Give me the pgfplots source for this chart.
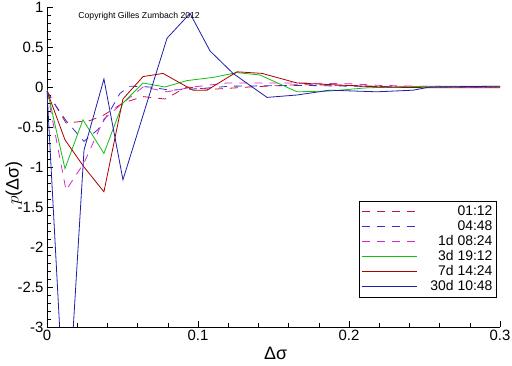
\documentclass[border=0pt]{standalone}
\usepackage{pgfplots}
\pgfplotsset{compat=1.18}
\usepackage{fontspec}
\setmainfont{Liberation Sans}
\definecolor{cA}{RGB}{200,20,60}
\definecolor{cB}{RGB}{50,50,210}
\definecolor{cC}{RGB}{220,40,200}
\definecolor{cD}{RGB}{20,190,20}
\definecolor{cE}{RGB}{170,0,0}
\definecolor{cF}{RGB}{30,30,170}
\begin{document}
\begin{tikzpicture}
\begin{axis}[
  scale only axis, width=453bp, height=320bp,
  xmin=0, xmax=0.3, ymin=-3, ymax=1,
  axis lines*=left,
  axis line style={line width=0.8bp},
  xtick={0,0.1,0.2,0.3}, xticklabels={0,0.1,0.2,0.3},
  ytick={-3,-2.5,-2,-1.5,-1,-0.5,0,0.5,1},
  yticklabels={-3,-2.5,-2,-1.5,-1,-0.5,0,0.5,1},
  minor x tick num=4, minor y tick num=4,
  tick align=inside,
  major tick length=6bp, minor tick length=4bp,
  tick style={black, line width=0.6bp},
  ticklabel style={font=\fontsize{15}{17}\selectfont},
  /pgf/number format/assume math mode=true,
  xlabel={\fontsize{18}{20}\selectfont Δσ},
  xlabel style={at={(axis description cs:0.505,-0.082)}, anchor=center},
  ylabel={\fontsize{18}{20}\selectfont $p$(Δσ)},
  ylabel style={at={(axis description cs:-0.073,0.45)}, anchor=center, rotate=0},
  legend style={at={(axis description cs:0.993,0.394)}, anchor=north east,
    draw=black, line width=0.8bp, font=\fontsize{14}{16}\selectfont,
    inner xsep=2bp, inner ysep=3bp, row sep=0bp, column sep=11bp,
    nodes={text height=10.5bp, text depth=2.5bp, inner ysep=1bp}},
  legend cell align=right,
  legend image code/.code={\draw[#1] (0bp,0bp) -- (55bp,0bp);},
  every axis plot/.append style={line width=0.8bp},
]
\addplot[cA, dash pattern=on 8bp off 7bp] coordinates {
(0,-0.05) (0.0126,-0.45) (0.0285,-0.42) (0.0377,-0.35) (0.0503,-0.2) (0.0636,-0.12)
(0.0781,-0.15) (0.0927,0.0) (0.108,-0.03) (0.1344,0.0) (0.1675,0.03) (0.2007,0.02)
(0.2338,0.0) (0.3,0.0)};
\addlegendentry{01:12}
\addplot[cB, dash pattern=on 8bp off 7bp] coordinates {
(0,-0.05) (0.0053,-0.22) (0.0126,-0.42) (0.0245,-0.68) (0.0338,-0.53) (0.0417,-0.3)
(0.0483,-0.08) (0.055,0.01) (0.0682,0.0) (0.0815,-0.04) (0.1013,-0.02) (0.1212,0.01)
(0.1675,0.02) (0.2007,0.01) (0.2338,0.0) (0.3,0.0)};
\addlegendentry{04:48}
\addplot[cC, dash pattern=on 8bp off 7bp] coordinates {
(0,-0.05) (0.0126,-1.29) (0.0245,-0.95) (0.0377,-0.4) (0.0503,-0.2) (0.0636,0.0)
(0.0795,-0.06) (0.0967,0.0) (0.1192,0.05) (0.1675,0.05) (0.2007,0.04) (0.2205,0.02)
(0.247,0.01) (0.3,0.0)};
\addlegendentry{1d 08:24}
\addplot[cD] coordinates {
(0,-0.03) (0.0119,-1.02) (0.0238,-0.41) (0.0377,-0.83) (0.0503,-0.2) (0.0636,0.05)
(0.0781,0.0) (0.0927,0.08) (0.11,0.12) (0.1258,0.18) (0.141,0.15) (0.1656,-0.06)
(0.1874,-0.05) (0.2119,-0.01) (0.2536,0.01) (0.3,0.01)};
\addlegendentry{3d 19:12}
\addplot[cE] coordinates {
(0,-0.05) (0.0119,-0.66) (0.0245,-1.0) (0.0377,-1.31) (0.0503,-0.15) (0.0636,0.13)
(0.0768,0.17) (0.0967,-0.04) (0.106,-0.04) (0.1258,0.19) (0.1424,0.17) (0.1656,0.05)
(0.1874,0.03) (0.2205,0.0) (0.2536,-0.01) (0.3,-0.01)};
\addlegendentry{7d 14:24}
\addplot[cF] coordinates {
(0,-0.05) (0.0126,-4.5) (0.0245,-0.79) (0.0377,0.1) (0.0503,-1.16) (0.0795,0.61)
(0.0947,0.92) (0.108,0.45) (0.1232,0.17) (0.1457,-0.13) (0.1656,-0.1) (0.1874,-0.04)
(0.2185,-0.06) (0.2424,-0.04) (0.2536,0.0) (0.3,0.01)};
\addlegendentry{30d 10:48}
\node[font=\fontsize{8.7}{10}\selectfont] at (axis cs:0.061,0.89) {Copyright Gilles Zumbach 2012};
\end{axis}
\pgfresetboundingbox
\path (-47bp,-39bp) rectangle (465bp,327bp);
\end{tikzpicture}
\end{document}
